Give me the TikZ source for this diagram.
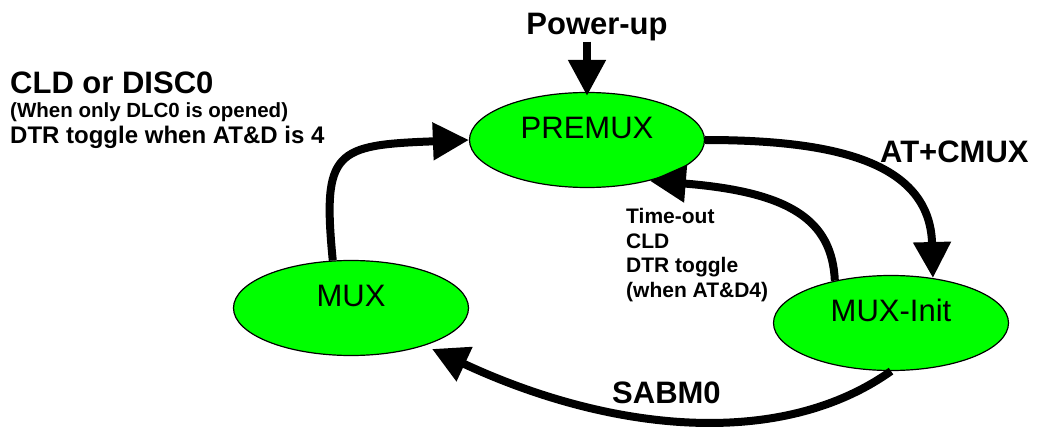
\documentclass[tikz,border=0pt]{standalone}
\usepackage{fontspec}
\setmainfont{Liberation Sans}
\usetikzlibrary{arrows.meta,shapes.geometric}
\definecolor{stategreen}{RGB}{0,255,0}
\newcommand{\cldline}[3]{\hbox{\fontsize{#1}{#1}\selectfont\vrule height #2 depth 0pt width 0pt\smash{#3}}}
\begin{document}
\begin{tikzpicture}[x=1pt,y=-1pt,
  state/.style={ellipse, draw=black, line width=1.2pt, fill=stategreen,
    minimum width=235pt, minimum height=95pt, inner sep=0pt,
    font=\fontsize{31}{36}\selectfont, text height=19pt, text depth=22pt},
  lbl/.style={font=\bfseries\fontsize{31}{36}\selectfont, inner sep=0pt},
  conn/.style={line width=8pt, -{Triangle[length=36pt,width=36pt]}},
]
\useasboundingbox (0,0) rectangle (1038,430);
\node[state] (PREMUX) at (587,140) {PREMUX};
\node[state] (MUX) at (351,308) {MUX};
\node[state] (MUXInit) at (891,323) {MUX-Init};

\node[lbl, anchor=base] (pu) at (597,35) {Power-up};
\node[lbl, anchor=base west] (atcmux) at (880,163) {AT+CMUX};
\node[lbl, anchor=base west] (sabm) at (612,403) {SABM0};

\node[anchor=north west, inner sep=0pt, font=\bfseries] (cld) at (10,70.5)
  {\vbox{\offinterlineskip
    \cldline{31}{22.5pt}{CLD or DISC0}
    \cldline{20.5}{24pt}{(When only DLC0 is opened)}
    \cldline{24}{26pt}{DTR toggle when AT\&D is 4}}};

\node[anchor=north west, align=left, inner sep=0pt, font=\bfseries\fontsize{21}{24.7}\selectfont] (timeout) at (626,208)
  {Time-out\\CLD\\DTR toggle\\(when AT\&D4)};

\draw[conn, shorten >=-4pt] (pu.south -| PREMUX.north) -- (PREMUX.north);
\draw[conn] (MUX.111) .. controls (322,150) and (335,145) .. (PREMUX.west);
\draw[conn] (PREMUX.east) .. controls (830,140) and (930,160) .. (MUXInit.47);
\draw[conn] (MUXInit.143) .. controls (832,220) and (790,192) .. (PREMUX.-33);
\draw[conn, shorten >=8pt] (MUXInit.south) .. controls (780,450) and (610,432) .. (MUX.-27.5);
\end{tikzpicture}
\end{document}
